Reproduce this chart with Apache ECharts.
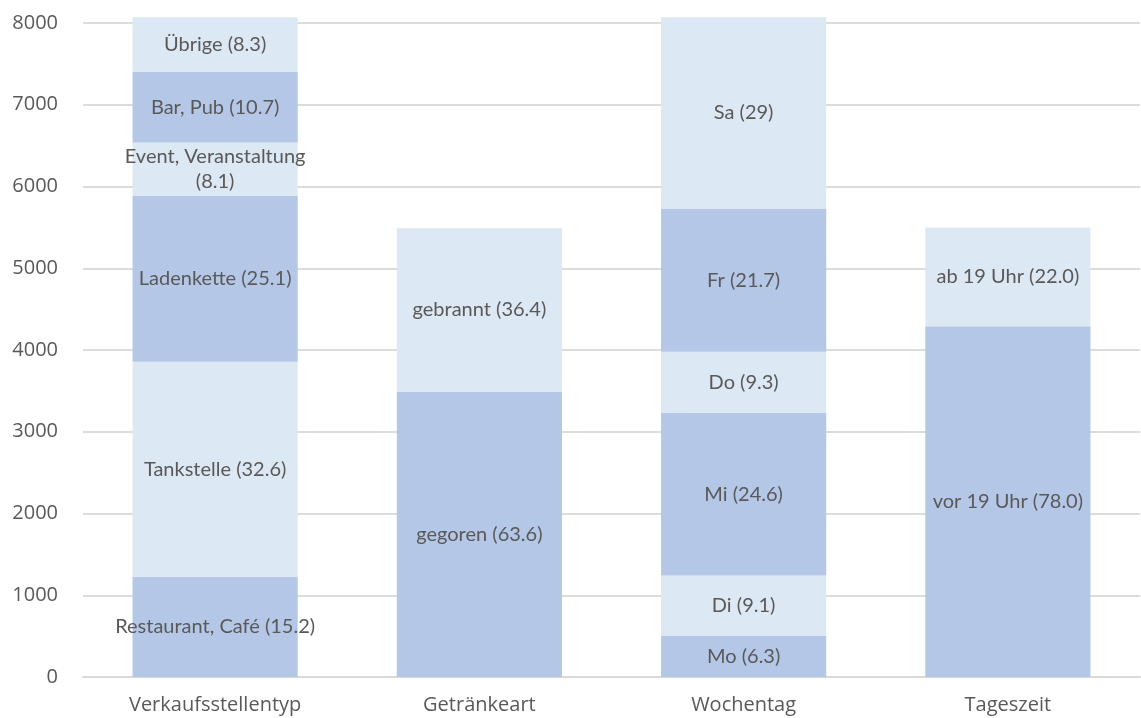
<!DOCTYPE html>
<html>
<head>
<meta charset="utf-8">
<script src="https://cdn.jsdelivr.net/npm/echarts@6/dist/echarts.min.js"></script>
<style>
  html, body { margin: 0; padding: 0; background: #ffffff; }
  #chart { width: 1141px; height: 718px; }
</style>
</head>
<body>
<div id="chart"></div>
<script>
// Kategorien der x-Achse
const categories = ['Verkaufsstellentyp', 'Getränkeart', 'Wochentag', 'Tageszeit'];

// Gesamthöhe je Säule (Anzahl)
const totals = [8070, 5490, 8070, 5500];

// Anteile (%) der Segmente je Säule, von unten nach oben
const verkaufsstelleNames = ['Restaurant, Café', 'Tankstelle', 'Ladenkette', 'Event, Veranstaltung', 'Bar, Pub', 'Übrige'];
const verkaufsstellePct   = ['15.2', '32.6', '25.1', '8.1', '10.7', '8.3'];

const getraenkNames = ['gegoren', 'gebrannt'];
const getraenkPct   = ['63.6', '36.4'];

const wochentagNames = ['Mo', 'Di', 'Mi', 'Do', 'Fr', 'Sa'];
const wochentagPct   = ['6.3', '9.1', '24.6', '9.3', '21.7', '29'];

const tageszeitNames = ['vor 19 Uhr', 'ab 19 Uhr'];
const tageszeitPct   = ['78.0', '22.0'];

// y-Achse
const yTicks = [0, 1000, 2000, 3000, 4000, 5000, 6000, 7000, 8000];

const groups = [
  { names: verkaufsstelleNames, pct: verkaufsstellePct },
  { names: getraenkNames, pct: getraenkPct },
  { names: wochentagNames, pct: wochentagPct },
  { names: tageszeitNames, pct: tageszeitPct }
];

const darkFill = '#b4c7e7';
const lightFill = '#dde8f5';
const levels = Math.max(...groups.map(g => g.names.length));

const series = [];
for (let lvl = 0; lvl < levels; lvl++) {
  const data = groups.map((g, ci) => {
    if (lvl >= g.names.length) return null;
    const p = parseFloat(g.pct[lvl]);
    return {
      value: totals[ci] * p / 100,
      segName: g.names[lvl],
      pctText: g.pct[lvl]
    };
  });
  series.push({
    type: 'bar',
    stack: 'gesamt',
    barWidth: '62.5%',
    clip: false,
    itemStyle: { color: lvl % 2 === 0 ? darkFill : lightFill },
    label: {
      show: true,
      position: 'inside',
      color: '#595959',
      fontFamily: 'Lato, "Open Sans", sans-serif',
      fontSize: 20,
      lineHeight: 25,
      formatter: (p) => {
        const d = p.data;
        if (!d) return '';
        const sep = d.segName.length > 18 ? '\n' : ' ';
        return d.segName + sep + '(' + d.pctText + ')';
      }
    },
    emphasis: { disabled: true },
    data: data
  });
}

const chart = echarts.init(document.getElementById('chart'), null, { renderer: 'canvas' });
chart.setOption({
  animation: false,
  grid: { left: 83, right: 1, top: 23, bottom: 41 },
  xAxis: {
    type: 'category',
    data: categories,
    axisLine: { show: true, lineStyle: { color: '#d9d9d9', width: 2 } },
    axisTick: { show: false },
    axisLabel: {
      color: '#595959',
      fontFamily: '"Open Sans", sans-serif',
      fontSize: 20,
      margin: 18
    }
  },
  yAxis: {
    type: 'value',
    min: yTicks[0],
    max: yTicks[yTicks.length - 1],
    interval: yTicks[1] - yTicks[0],
    axisLine: { show: false },
    axisTick: { show: false },
    splitLine: { lineStyle: { color: '#dcdcdc', width: 2 } },
    axisLabel: {
      color: '#595959',
      fontFamily: '"Open Sans", sans-serif',
      fontSize: 20,
      margin: 25,
      formatter: (v) => String(v)
    }
  },
  series: series
});
</script>
</body>
</html>
